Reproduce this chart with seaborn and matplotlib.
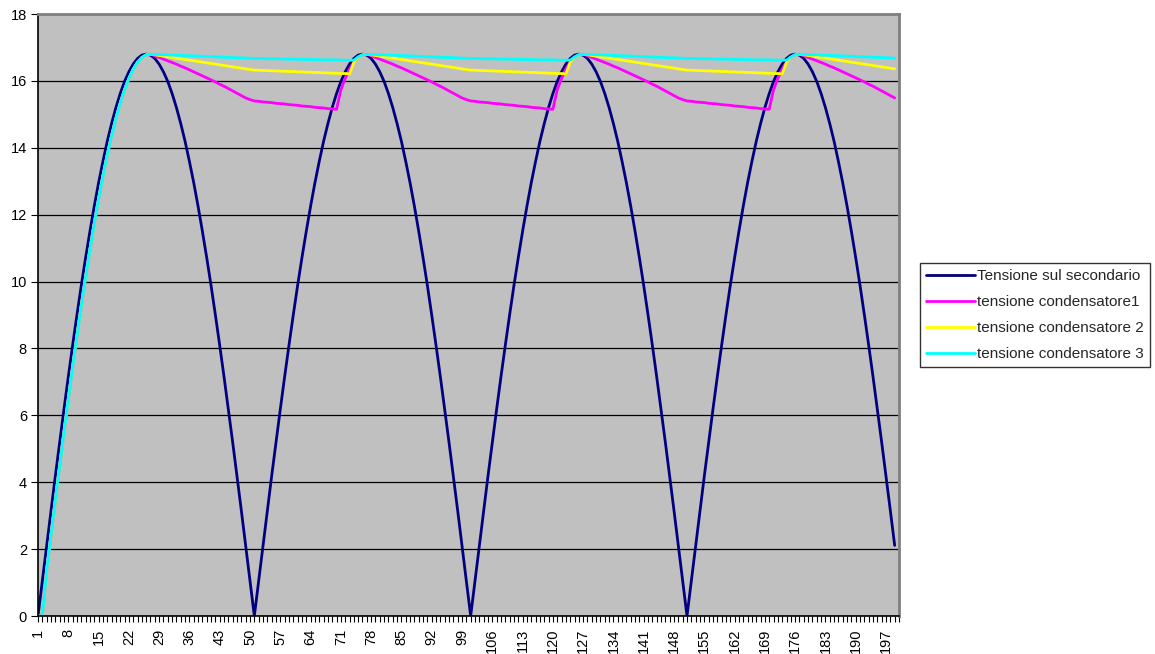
import matplotlib
matplotlib.use("Agg")
import matplotlib.pyplot as plt
import seaborn as sns
import pandas as pd

# ---------------- data ----------------
categories = list(range(1, 201))          # category axis 1..200 (last cell empty)
tick_labels = [str(c) if (c - 1) % 7 == 0 else "" for c in categories]
y_ticks = [0, 2, 4, 6, 8, 10, 12, 14, 16, 18]

series_names = ["Tensione sul secondario", "tensione condensatore1",
                "tensione condensatore 2", "tensione condensatore 3"]
series_colors = ["#000080", "#FF00FF", "#FFFF00", "#00FFFF"]

secondario = [
    0, 1.05, 2.11, 3.15, 4.18, 5.19, 6.18, 7.15, 8.09, 9.00,
    9.88, 10.71, 11.50, 12.25, 12.95, 13.59, 14.19, 14.72, 15.20, 15.62,
    15.98, 16.27, 16.50, 16.67, 16.77, 16.80, 16.77, 16.67, 16.50, 16.27,
    15.98, 15.62, 15.20, 14.72, 14.19, 13.59, 12.95, 12.25, 11.50, 10.71,
    9.88, 9.00, 8.09, 7.15, 6.18, 5.19, 4.18, 3.15, 2.11, 1.05,
    0, 1.05, 2.11, 3.15, 4.18, 5.19, 6.18, 7.15, 8.09, 9.00,
    9.88, 10.71, 11.50, 12.25, 12.95, 13.59, 14.19, 14.72, 15.20, 15.62,
    15.98, 16.27, 16.50, 16.67, 16.77, 16.80, 16.77, 16.67, 16.50, 16.27,
    15.98, 15.62, 15.20, 14.72, 14.19, 13.59, 12.95, 12.25, 11.50, 10.71,
    9.88, 9.00, 8.09, 7.15, 6.18, 5.19, 4.18, 3.15, 2.11, 1.05,
    0, 1.05, 2.11, 3.15, 4.18, 5.19, 6.18, 7.15, 8.09, 9.00,
    9.88, 10.71, 11.50, 12.25, 12.95, 13.59, 14.19, 14.72, 15.20, 15.62,
    15.98, 16.27, 16.50, 16.67, 16.77, 16.80, 16.77, 16.67, 16.50, 16.27,
    15.98, 15.62, 15.20, 14.72, 14.19, 13.59, 12.95, 12.25, 11.50, 10.71,
    9.88, 9.00, 8.09, 7.15, 6.18, 5.19, 4.18, 3.15, 2.11, 1.05,
    0, 1.05, 2.11, 3.15, 4.18, 5.19, 6.18, 7.15, 8.09, 9.00,
    9.88, 10.71, 11.50, 12.25, 12.95, 13.59, 14.19, 14.72, 15.20, 15.62,
    15.98, 16.27, 16.50, 16.67, 16.77, 16.80, 16.77, 16.67, 16.50, 16.27,
    15.98, 15.62, 15.20, 14.72, 14.19, 13.59, 12.95, 12.25, 11.50, 10.71,
    9.88, 9.00, 8.09, 7.15, 6.18, 5.19, 4.18, 3.15, 2.11,
]

condensatore1 = [
    0, 0, 1.37, 2.42, 3.46, 4.48, 5.49, 6.48, 7.44, 8.37,
    9.27, 10.13, 10.95, 11.73, 12.46, 13.15, 13.78, 14.35, 14.87, 15.33,
    15.73, 16.07, 16.35, 16.56, 16.70, 16.78,
    16.80, 16.75, 16.70, 16.65, 16.60, 16.55, 16.50, 16.44, 16.39, 16.33,
    16.27, 16.21, 16.15, 16.09, 16.03, 15.97, 15.90, 15.84, 15.77, 15.70,
    15.63, 15.56, 15.49, 15.44, 15.40,
    15.39, 15.37, 15.36, 15.35, 15.33, 15.32, 15.31, 15.29, 15.28, 15.27,
    15.25, 15.24, 15.23, 15.21, 15.20, 15.19, 15.17, 15.16, 15.15,
    15.73, 16.07, 16.35, 16.56, 16.70, 16.78,
    16.80, 16.75, 16.70, 16.65, 16.60, 16.55, 16.50, 16.44, 16.39, 16.33,
    16.27, 16.21, 16.15, 16.09, 16.03, 15.97, 15.90, 15.84, 15.77, 15.70,
    15.63, 15.56, 15.49, 15.44, 15.40,
    15.39, 15.37, 15.36, 15.35, 15.33, 15.32, 15.31, 15.29, 15.28, 15.27,
    15.25, 15.24, 15.23, 15.21, 15.20, 15.19, 15.17, 15.16, 15.15,
    15.73, 16.07, 16.35, 16.56, 16.70, 16.78,
    16.80, 16.75, 16.70, 16.65, 16.60, 16.55, 16.50, 16.44, 16.39, 16.33,
    16.27, 16.21, 16.15, 16.09, 16.03, 15.97, 15.90, 15.84, 15.77, 15.70,
    15.63, 15.56, 15.49, 15.44, 15.40,
    15.39, 15.37, 15.36, 15.35, 15.33, 15.32, 15.31, 15.29, 15.28, 15.27,
    15.25, 15.24, 15.23, 15.21, 15.20, 15.19, 15.17, 15.16, 15.15,
    15.73, 16.07, 16.35, 16.56, 16.70, 16.78,
    16.80, 16.75, 16.70, 16.65, 16.60, 16.55, 16.50, 16.44, 16.39, 16.33,
    16.27, 16.21, 16.15, 16.09, 16.03, 15.97, 15.90, 15.84, 15.77, 15.70,
    15.63, 15.56, 15.49,
]

condensatore2 = [
    0, 0, 1.37, 2.42, 3.46, 4.48, 5.49, 6.48, 7.44, 8.37,
    9.27, 10.13, 10.95, 11.73, 12.46, 13.15, 13.78, 14.35, 14.87, 15.33,
    15.73, 16.07, 16.35, 16.56, 16.70, 16.78,
    16.80, 16.78, 16.76, 16.74, 16.72, 16.70, 16.68, 16.66, 16.64, 16.62,
    16.60, 16.58, 16.56, 16.54, 16.52, 16.50, 16.48, 16.46, 16.44, 16.42,
    16.40, 16.38, 16.36, 16.34, 16.32,
    16.32, 16.31, 16.31, 16.30, 16.30, 16.29, 16.29, 16.28, 16.28, 16.27,
    16.27, 16.26, 16.26, 16.25, 16.25, 16.24, 16.24, 16.23, 16.23, 16.22,
    16.22, 16.21,
    16.55, 16.70, 16.78,
    16.80, 16.78, 16.76, 16.74, 16.72, 16.70, 16.68, 16.66, 16.64, 16.62,
    16.60, 16.58, 16.56, 16.54, 16.52, 16.50, 16.48, 16.46, 16.44, 16.42,
    16.40, 16.38, 16.36, 16.34, 16.32,
    16.32, 16.31, 16.31, 16.30, 16.30, 16.29, 16.29, 16.28, 16.28, 16.27,
    16.27, 16.26, 16.26, 16.25, 16.25, 16.24, 16.24, 16.23, 16.23, 16.22,
    16.22, 16.21,
    16.55, 16.70, 16.78,
    16.80, 16.78, 16.76, 16.74, 16.72, 16.70, 16.68, 16.66, 16.64, 16.62,
    16.60, 16.58, 16.56, 16.54, 16.52, 16.50, 16.48, 16.46, 16.44, 16.42,
    16.40, 16.38, 16.36, 16.34, 16.32,
    16.32, 16.31, 16.31, 16.30, 16.30, 16.29, 16.29, 16.28, 16.28, 16.27,
    16.27, 16.26, 16.26, 16.25, 16.25, 16.24, 16.24, 16.23, 16.23, 16.22,
    16.22, 16.21,
    16.55, 16.70, 16.78,
    16.80, 16.78, 16.76, 16.74, 16.72, 16.70, 16.68, 16.66, 16.64, 16.62,
    16.60, 16.58, 16.56, 16.54, 16.52, 16.50, 16.48, 16.46, 16.44, 16.42,
    16.40, 16.38, 16.36,
]

condensatore3 = [
    0, 0, 1.37, 2.42, 3.46, 4.48, 5.49, 6.48, 7.44, 8.37,
    9.27, 10.13, 10.95, 11.73, 12.46, 13.15, 13.78, 14.35, 14.87, 15.33,
    15.73, 16.07, 16.35, 16.56, 16.70, 16.78,
    16.80, 16.79, 16.79, 16.78, 16.78, 16.77, 16.77, 16.76, 16.76, 16.75,
    16.75, 16.74, 16.74, 16.73, 16.72, 16.72, 16.71, 16.71, 16.70, 16.70,
    16.69, 16.69, 16.68, 16.68, 16.67,
    16.67, 16.67, 16.66, 16.66, 16.66, 16.66, 16.65, 16.65, 16.65, 16.65,
    16.64, 16.64, 16.64, 16.64, 16.63, 16.63, 16.63, 16.63, 16.63, 16.62,
    16.62, 16.62, 16.62,
    16.72, 16.78,
    16.80, 16.79, 16.79, 16.78, 16.78, 16.77, 16.77, 16.76, 16.76, 16.75,
    16.75, 16.74, 16.74, 16.73, 16.72, 16.72, 16.71, 16.71, 16.70, 16.70,
    16.69, 16.69, 16.68, 16.68, 16.67,
    16.67, 16.67, 16.66, 16.66, 16.66, 16.66, 16.65, 16.65, 16.65, 16.65,
    16.64, 16.64, 16.64, 16.64, 16.63, 16.63, 16.63, 16.63, 16.63, 16.62,
    16.62, 16.62, 16.62,
    16.72, 16.78,
    16.80, 16.79, 16.79, 16.78, 16.78, 16.77, 16.77, 16.76, 16.76, 16.75,
    16.75, 16.74, 16.74, 16.73, 16.72, 16.72, 16.71, 16.71, 16.70, 16.70,
    16.69, 16.69, 16.68, 16.68, 16.67,
    16.67, 16.67, 16.66, 16.66, 16.66, 16.66, 16.65, 16.65, 16.65, 16.65,
    16.64, 16.64, 16.64, 16.64, 16.63, 16.63, 16.63, 16.63, 16.63, 16.62,
    16.62, 16.62, 16.62,
    16.72, 16.78,
    16.80, 16.79, 16.79, 16.78, 16.78, 16.77, 16.77, 16.76, 16.76, 16.75,
    16.75, 16.74, 16.74, 16.73, 16.72, 16.72, 16.71, 16.71, 16.70, 16.70,
    16.69, 16.69, 16.68,
]

# ---------------- figure ----------------
sns.set_style("white")
plt.rcParams["font.family"] = ["Liberation Sans", "DejaVu Sans"]

W, H = 1155, 654
fig = plt.figure(figsize=(W / 100, H / 100), dpi=100)
fig.patch.set_facecolor("white")
ax = fig.add_axes([38 / W, (H - 616) / H, (899 - 38) / W, (616 - 14) / H])
ax.set_facecolor("#C0C0C0")

frames = []
for name, vals in zip(series_names, [secondario, condensatore1, condensatore2, condensatore3]):
    frames.append(pd.DataFrame({"x": categories[:len(vals)], "v": vals, "serie": name}))
df = pd.concat(frames, ignore_index=True)

palette = dict(zip(series_names, series_colors))
sns.lineplot(data=df, x="x", y="v", hue="serie", hue_order=series_names,
             palette=palette, linewidth=2.0, estimator=None, sort=False,
             ax=ax, legend=True)

ax.set_xlim(1, 200)
ax.set_ylim(0, 18)
ax.set_xlabel("")
ax.set_ylabel("")

# gridlines
ax.set_yticks(y_ticks)
ax.yaxis.grid(True, color="black", linewidth=0.9)
ax.xaxis.grid(False)
ax.set_axisbelow(True)

# x ticks: every category, label every 7th
ax.set_xticks(categories)
ax.set_xticklabels(tick_labels, rotation=90, fontsize=10.5)
ax.tick_params(axis="x", bottom=True, direction="out", length=4, width=0.8,
               pad=5, colors="black")
ax.tick_params(axis="y", left=True, direction="out", length=5, width=0.8,
               pad=3, labelsize=10.5, colors="black")
ax.set_yticklabels([str(v) for v in y_ticks])

for side in ["left", "bottom"]:
    ax.spines[side].set_color("black")
    ax.spines[side].set_linewidth(1.2)
for side in ["top", "right"]:
    ax.spines[side].set_color("#808080")
    ax.spines[side].set_linewidth(2.0)

handles, labels = ax.get_legend_handles_labels()
leg = ax.legend(handles, labels, loc="center left", bbox_to_anchor=(1.0244, 0.5),
                frameon=True, fancybox=False, edgecolor="black", facecolor="white",
                fontsize=11, handlelength=3.2, handletextpad=0.15,
                labelspacing=0.785, borderpad=0.4, borderaxespad=0)
leg.get_frame().set_linewidth(1.0)
for line in leg.get_lines():
    line.set_linewidth(2.0)

fig.savefig("out.png", dpi=100, facecolor="white")
